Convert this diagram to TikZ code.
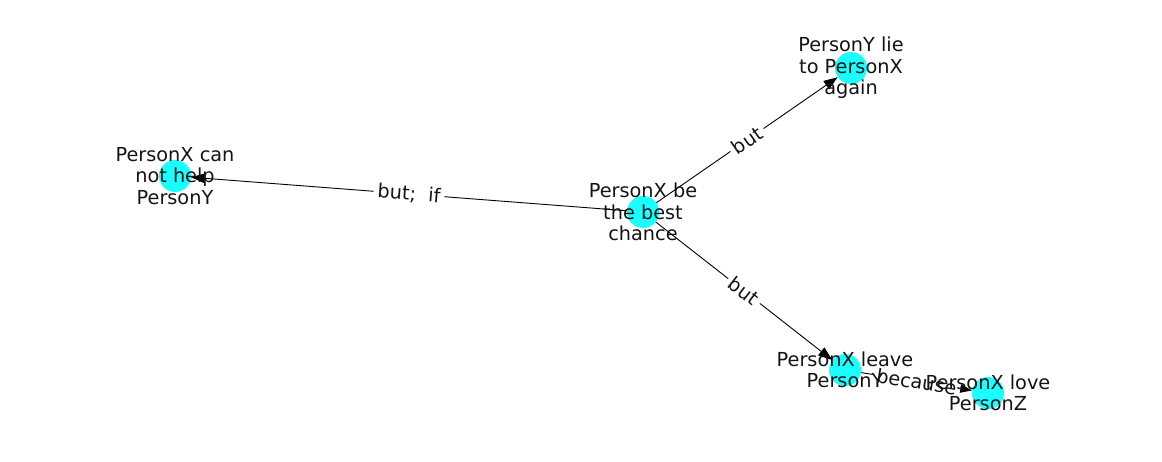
\documentclass[tikz,border=0pt]{standalone}
\usepackage{fontspec}
\setmainfont{DejaVu Sans}
\usetikzlibrary{arrows.meta}
\definecolor{nodecyan}{RGB}{0,255,255}
\definecolor{inktext}{RGB}{20,20,20}
\begin{document}
\begin{tikzpicture}[x=1pt,y=-1pt,
  vtx/.style={circle, fill=nodecyan, fill opacity=0.9, draw=none, minimum size=32pt, inner sep=0pt},
  vlabel/.style={align=center, inner sep=0pt, font=\fontsize{19.3}{21.5}\selectfont, text=inktext},
  edge/.style={draw=black, line width=0.9pt, -{Triangle[length=14pt,width=10pt]}},
  elabel/.style={midway, sloped, fill=white, inner sep=4pt, font=\fontsize{19.3}{21.5}\selectfont, text=inktext}
]
\useasboundingbox (0,0) rectangle (1162,462);
\node[vtx] (a) at (643,212) {};
\node[vtx] (b) at (851,68) {};
\node[vtx] (c) at (175,176) {};
\node[vtx] (d) at (845,370) {};
\node[vtx] (e) at (988,393) {};
\draw[edge] (a) -- (b) node[elabel] {but};
\draw[edge] (a) -- (c) node[elabel] {but;\ \ if};
\draw[edge] (a) -- (d) node[elabel] {but};
\draw[edge] (d) -- (e) node[elabel] {because};
\node[vlabel] (la) at (a) {PersonX be\\the best\\chance};
\node[vlabel] (lb) at (b) {PersonY lie\\to PersonX\\again};
\node[vlabel] (lc) at (c) {PersonX can\\not help\\PersonY};
\node[vlabel] (ld) at (d) {PersonX leave\\PersonY};
\node[vlabel] (le) at (e) {PersonX love\\PersonZ};
\end{tikzpicture}
\end{document}
